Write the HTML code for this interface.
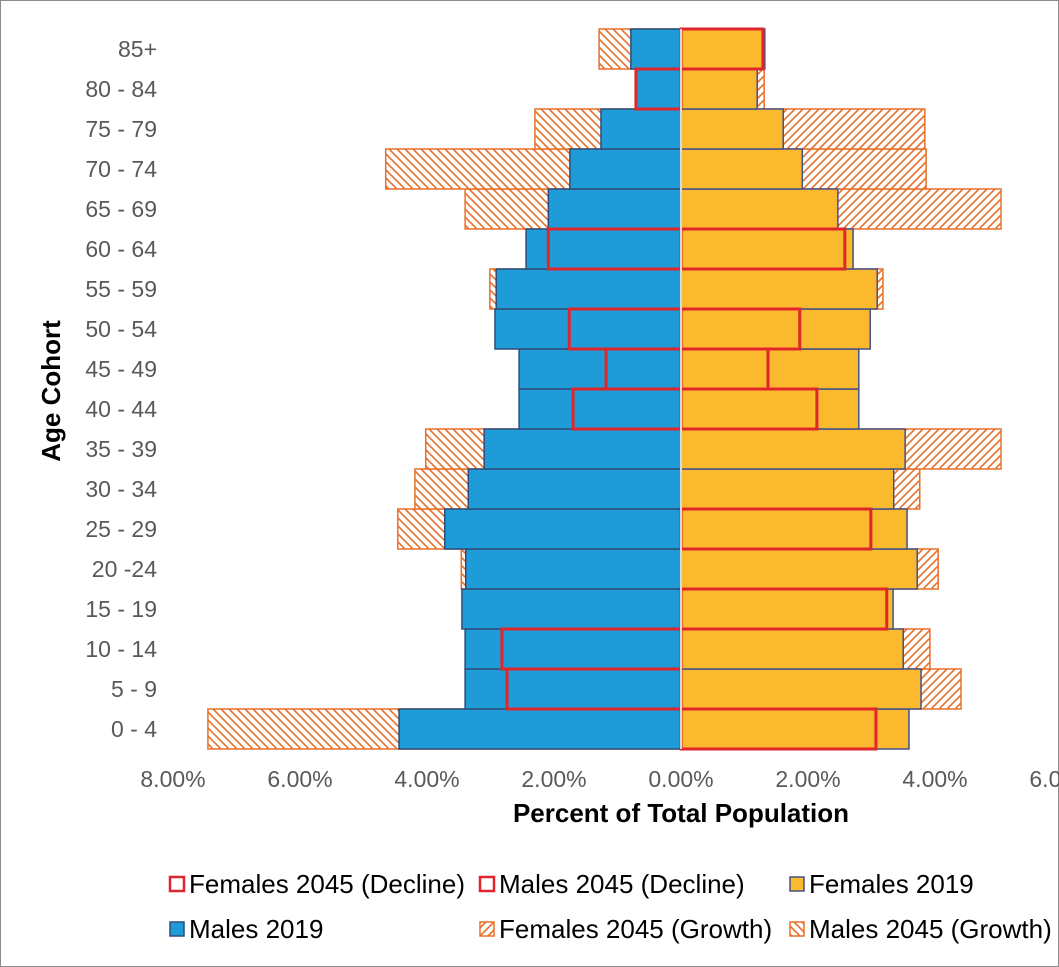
<!DOCTYPE html>
<html><head><meta charset="utf-8"><style>
body{margin:0;background:#fff}
svg{display:block;font-family:"Liberation Sans",Arial,sans-serif}
</style></head><body>
<svg width="1059" height="967" viewBox="0 0 1059 967">
<defs>
<pattern id="hM" patternUnits="userSpaceOnUse" width="8" height="8"><rect width="8" height="8" fill="#fff"/><path d="M-2,-2 L10,10 M-2,6 L2,10 M6,-2 L10,2" stroke="#e8702a" stroke-width="1.6"/></pattern>
<pattern id="hF" patternUnits="userSpaceOnUse" width="8" height="8"><rect width="8" height="8" fill="#fff"/><path d="M-2,10 L10,-2 M-2,2 L2,-2 M6,10 L10,6" stroke="#e8702a" stroke-width="1.6"/></pattern>
</defs>
<rect x="0.5" y="0.5" width="1058" height="966" fill="#fff" stroke="#8c8c8c"/>
<g id="plot"></g>
<g id="axes"></g>
<text x="681" y="822" text-anchor="middle" font-size="26" font-weight="bold">Percent of Total Population</text>
<text transform="translate(60,391) rotate(-90)" text-anchor="middle" font-size="26" font-weight="bold">Age Cohort</text>
<g id="legend" font-size="26" fill="#000"></g>
</svg>
<script>
const ages=["0 - 4","5 - 9","10 - 14","15 - 19","20 -24","25 - 29","30 - 34","35 - 39","40 - 44","45 - 49","50 - 54","55 - 59","60 - 64","65 - 69","70 - 74","75 - 79","80 - 84","85+"];
const males2019=[4.44,3.40,3.40,3.45,3.39,3.72,3.35,3.10,2.55,2.55,2.93,2.91,2.44,2.09,1.75,1.26,0.71,0.79];
const males2045Growth=[7.45,0,0,0,3.46,4.46,4.19,4.02,0,0,0,3.01,0,3.40,4.65,2.30,0,1.29];
const males2045Decline=[0,2.74,2.82,0,0,0,0,0,1.70,1.18,1.76,0,2.09,0,0,0,0.71,0];
const females2019=[3.59,3.78,3.50,3.34,3.72,3.56,3.35,3.53,2.80,2.80,2.98,3.09,2.71,2.47,1.91,1.61,1.20,1.32];
const females2045Growth=[0,4.41,3.92,0,4.05,0,3.76,5.04,0,0,0,3.18,0,5.04,3.86,3.84,1.31,0];
const females2045Decline=[3.07,0,0,3.24,0,2.99,0,0,2.14,1.37,1.87,0,2.58,0,0,0,0,1.29];
const xTicks=[-8,-6,-4,-2,0,2,4,6];
const NS="http://www.w3.org/2000/svg";
const x0=681,pxPer=63.5,rowTop=749,rowH=40;
const X=v=>x0+v*pxPer;
const Y=i=>rowTop-(i+1)*rowH;
const plot=document.getElementById('plot'),axes=document.getElementById('axes'),lg=document.getElementById('legend');
function mk(tag,at,parent){const e=document.createElementNS(NS,tag);for(const k in at)e.setAttribute(k,at[k]);parent.appendChild(e);return e;}
function bar(v,i,side,fill,stroke,sw,name){
  if(!v)return;
  const a=X(0),b=X(side*v);
  const e=mk('rect',{x:Math.min(a,b),y:Y(i),width:Math.abs(b-a),height:rowH,fill:fill,stroke:stroke,'stroke-width':sw},plot);
  
  
}
ages.forEach((a,i)=>{
  bar(males2045Growth[i],i,-1,'url(#hM)','#e8702a',1.5,'bar-males-2045-growth');
  bar(females2045Growth[i],i,1,'url(#hF)','#e8702a',1.5,'bar-females-2045-growth');
});
ages.forEach((a,i)=>{
  bar(males2019[i],i,-1,'#1f9bd7','#2e4d7b',1.5,'bar-males-2019');
  bar(females2019[i],i,1,'#fbb92d','#44508a',1.5,'bar-females-2019');
});
ages.forEach((a,i)=>{
  bar(males2045Decline[i],i,-1,'none','#e0262a',3,'bar-males-2045-decline');
  bar(females2045Decline[i],i,1,'none','#e0262a',3,'bar-females-2045-decline');
  const t=mk('text',{x:157,y:Y(i)+rowH/2+8,'text-anchor':'end','font-size':23,fill:'#595959','xml:space':'preserve'},axes);
  t.textContent=a;
  
  
});
const ax=mk('line',{x1:x0,x2:x0,y1:Y(ages.length-1),y2:rowTop,stroke:'#d9d9d9','stroke-width':2},axes);


xTicks.forEach(v=>{
  const t=mk('text',{x:X(v),y:787,'text-anchor':'middle','font-size':23,fill:'#595959'},axes);
  t.textContent=(Math.abs(v)).toFixed(2)+'%';
  
  
});
const legendItems=[
 ["Females 2045 (Decline)",170,877,'none','#e0262a',2.5],
 ["Males 2045 (Decline)",480,877,'none','#e0262a',2.5],
 ["Females 2019",790,877,'#fbb92d','#44508a',1.5],
 ["Males 2019",170,922,'#1f9bd7','#2e4d7b',1.5],
 ["Females 2045 (Growth)",480,922,'url(#hF)','#e8702a',1.5],
 ["Males 2045 (Growth)",790,922,'url(#hM)','#e8702a',1.5]];
legendItems.forEach(r=>{
  const g=mk('g',{},lg);
  
  
  mk('rect',{x:r[1],y:r[2],width:14,height:14,fill:r[3],stroke:r[4],'stroke-width':r[5]},g);
  const t=mk('text',{x:r[1]+19,y:r[2]+16},g);t.textContent=r[0];
});
</script>
</body></html>
